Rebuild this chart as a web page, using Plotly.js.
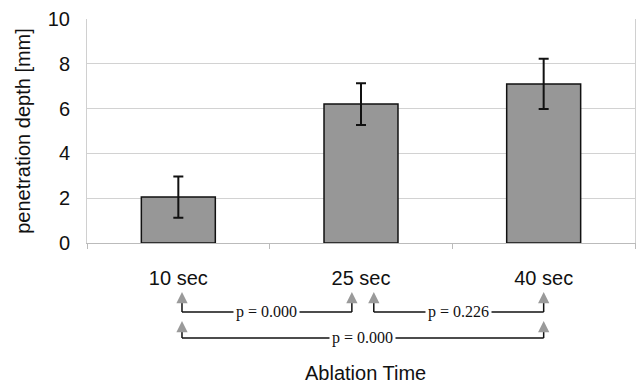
<!DOCTYPE html>
<html><head><meta charset="utf-8">
<script src="https://cdn.plot.ly/plotly-3.0.1.min.js"></script>
<style>html,body{margin:0;padding:0;background:#fff}#chart{width:640px;height:385px}</style>
</head><body><div id="chart"></div>
<script>
// Data
const categories = ['10 sec', '25 sec', '40 sec'];
const depth = [2.05, 6.2, 7.1];
const sdev = [0.92, 0.93, 1.12];
const cmpFrom = [0, 1, 0];
const cmpTo = [1, 2, 2];
const pLabels = ['p = 0.000', 'p = 0.226', 'p = 0.000'];

// bracket styling (pixels -> paper units; plot height 224)
const plotH = 224;
const px = v => -v / plotH;
const bracketRow = [0, 0, 1];
const rowLineY = [69, 95];
const rowTipY = [49, 78];
const leftOff = [0.02, 0.07, 0.02];
const rightOff = [-0.05, 0.0, 0.0];

const shapes = [];
const annotations = [];
for (let i = 0; i < pLabels.length; i++) {
  const r = bracketRow[i];
  const x0 = cmpFrom[i] + leftOff[i];
  const x1 = cmpTo[i] + rightOff[i];
  const yl = px(rowLineY[r]);
  const yt = px(rowTipY[r] + 6);
  const line = {color: '#111', width: 1.5};
  shapes.push({type: 'line', xref: 'x', yref: 'paper', x0: x0, x1: x0, y0: yl, y1: yt, line});
  shapes.push({type: 'line', xref: 'x', yref: 'paper', x0: x1, x1: x1, y0: yl, y1: yt, line});
  shapes.push({type: 'line', xref: 'x', yref: 'paper', x0: x0, x1: x1, y0: yl, y1: yl, line});
  [x0, x1].forEach(xx => annotations.push({
    xref: 'x', yref: 'paper', x: xx, y: px(rowTipY[r]), text: '', showarrow: true,
    ax: 0, ay: 8, arrowhead: 2, arrowsize: 1.5, arrowwidth: 1.5, arrowcolor: '#9a9a9a'
  }));
  annotations.push({
    xref: 'x', yref: 'paper', x: (x0 + x1) / 2, y: yl, text: pLabels[i], showarrow: false,
    font: {family: 'Liberation Serif, Times New Roman, serif', size: 16, color: '#111'},
    bgcolor: '#fff', borderpad: 2, yanchor: 'middle'
  });
}
annotations.push({
  xref: 'paper', yref: 'paper', x: 0.508, y: px(130), text: 'Ablation Time', showarrow: false,
  font: {family: 'Liberation Sans, Arial, sans-serif', size: 20, color: '#111'}, yanchor: 'middle'
});

const trace = {
  type: 'bar', x: categories, y: depth, width: 0.405,
  marker: {color: '#979797', line: {color: '#111', width: 1.5}},
  error_y: {type: 'data', array: sdev, visible: true, color: '#111', thickness: 2, width: 5}
};

const layout = {
  width: 640, height: 385,
  margin: {l: 87, r: 5, t: 19, b: 142},
  paper_bgcolor: '#fff', plot_bgcolor: '#fff',
  showlegend: false,
  font: {family: 'Liberation Sans, Arial, sans-serif', color: '#111'},
  xaxis: {
    type: 'category', range: [-0.5, 2.5],
    showline: true, linecolor: '#bbb', linewidth: 1,
    ticks: 'outside', tickson: 'boundaries', ticklen: 5, tickcolor: '#bbb',
    tickfont: {size: 20, color: '#111'}, ticklabelstandoff: 17,
    showgrid: false
  },
  yaxis: {
    range: [0, 10], dtick: 2, tickfont: {size: 20, color: '#111'},
    showgrid: true, gridcolor: '#d2d2d2', gridwidth: 1,
    showline: true, mirror: true, linecolor: '#d0d0d0',
    zeroline: false, ticks: '', ticklabelstandoff: 12,
    title: {text: 'penetration depth [mm]', font: {size: 20, color: '#111'}, standoff: 11}
  },
  shapes, annotations
};

Plotly.newPlot('chart', [trace], layout, {staticPlot: true});
</script></body></html>
